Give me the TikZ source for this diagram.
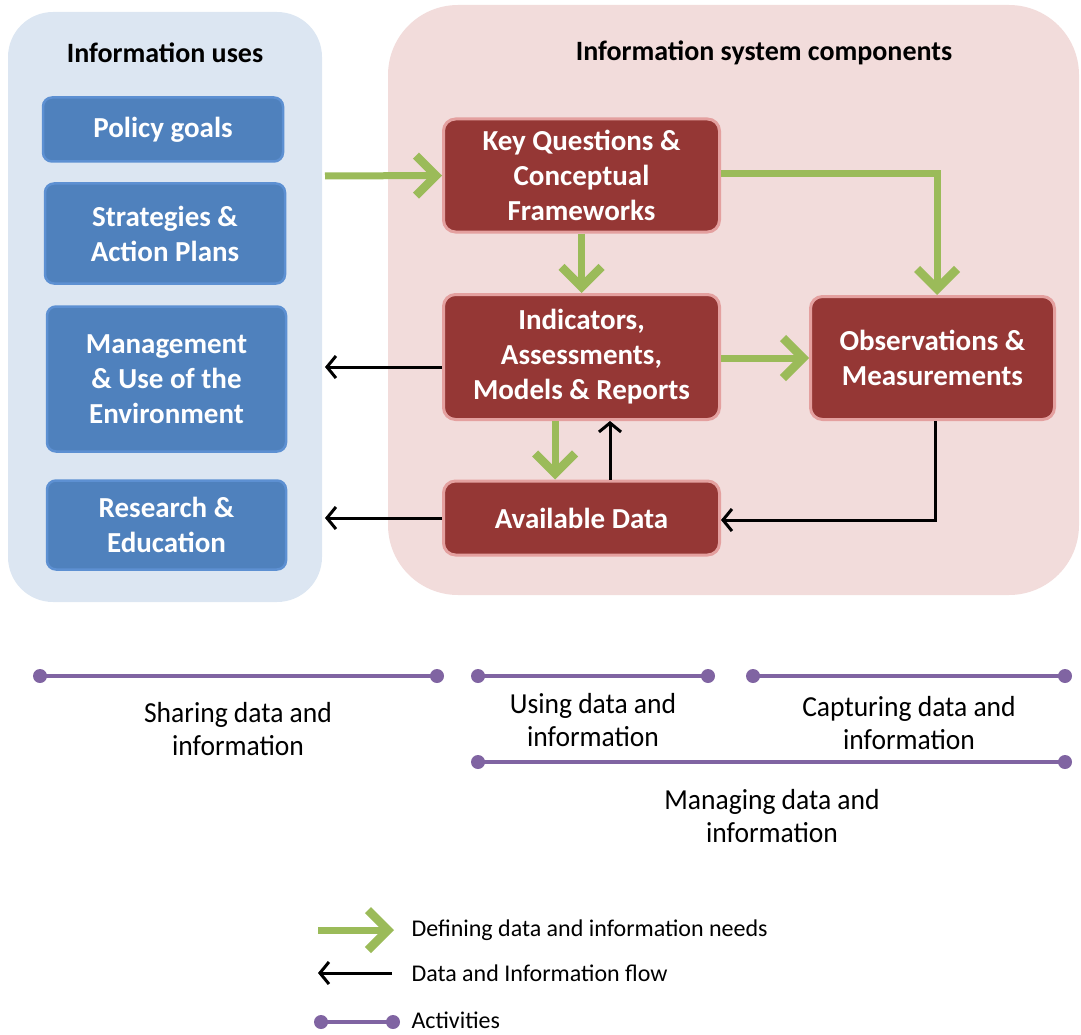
\documentclass[tikz,border=0pt]{standalone}
\usepackage{fontspec}
\setmainfont{Carlito}
\newfontfamily\narrowfont[FakeStretch=0.95]{Carlito}
\usetikzlibrary{arrows.meta}
\definecolor{panelblue}{HTML}{DCE6F2}
\definecolor{panelred}{HTML}{F2DCDB}
\definecolor{boxblue}{HTML}{4F81BD}
\definecolor{edgeblue}{HTML}{5D90D2}
\definecolor{boxred}{HTML}{953735}
\definecolor{edgered}{HTML}{E4A09F}
\definecolor{needgreen}{HTML}{9BBB59}
\definecolor{actpurple}{HTML}{8064A2}
\tikzset{
  panel/.style={rounded corners=45pt, draw=none},
  usebox/.style={rectangle, rounded corners=9pt, fill=boxblue, draw=edgeblue, line width=2.5pt,
    text=white, font=\fontsize{29}{35}\selectfont\bfseries, align=center, inner sep=0pt},
  compbox/.style={rectangle, rounded corners=12pt, fill=boxred, draw=edgered, line width=3pt,
    text=white, font=\fontsize{29}{35}\selectfont\bfseries, align=center, inner sep=0pt},
  heading/.style={font=\fontsize{28}{32}\selectfont\bfseries, text=black},
  need/.style={draw=needgreen, line width=7pt, -{Straight Barb[length=20pt,width=40pt,line width=8.5pt]}},
  flow/.style={draw=black, line width=3pt, -{Straight Barb[length=9pt,width=22pt]}},
  activity/.style={draw=actpurple, line width=4pt},
  actdot/.style={circle, fill=actpurple, inner sep=0pt, minimum size=14pt},
  actlabel/.style={font=\fontsize{29}{33}\selectfont\narrowfont, align=center},
  legendtext/.style={font=\fontsize{24}{26}\selectfont, anchor=west},
}
\begin{document}
\begin{tikzpicture}[x=1pt,y=-1pt]
\useasboundingbox (0,0) rectangle (1081,1035);

% background panels
\fill[panelblue, panel] (8,12) rectangle (322,602);
\fill[panelred, panel, rounded corners=70pt] (388,5) rectangle (1079,595);
\node[heading] (usesTitle) at (165,53) {Information uses};
\node[heading] (compTitle) at (764,53) {Information system components};

% information uses
\node[usebox, minimum width=240pt, minimum height=64pt] (policy) at (163,129.5) {Policy goals};
\node[usebox, minimum width=240pt, minimum height=100pt] (strategy) at (165,233.5) {Strategies \&\\Action Plans};
\node[usebox, minimum width=239pt, minimum height=145pt] (manage) at (166.5,379) {Management\\\& Use of the\\Environment};
\node[usebox, minimum width=239pt, minimum height=89pt] (research) at (166.5,525) {Research \&\\Education};

% information system components
\node[compbox, minimum width=276pt, minimum height=113pt] (keyq) at (581.5,175.5) {Key Questions \&\\Conceptual\\Frameworks};
\node[compbox, minimum width=276pt, minimum height=125pt] (indic) at (581.5,357) {Indicators,\\Assessments,\\Models \& Reports};
\node[compbox, minimum width=244pt, minimum height=123pt] (obs) at (932.5,358) {Observations \&\\Measurements};
\node[compbox, minimum width=276pt, minimum height=74pt] (avail) at (581.5,518) {Available Data};

% defining data and information needs
\coordinate (needIn) at (325,176);
\draw[need] (needIn) -- (keyq.west);
\draw[need] (keyq.east |- 0,174) -| (obs.north -| 937,0);
\draw[need] (keyq.south) -- (indic.north);
\draw[need] (indic.east |- 0,358) -- (obs.west |- 0,358);
\draw[need] (indic.south -| 555,0) -- (avail.north -| 555,0);

% data and information flow
\draw[flow] (avail.north -| 610,0) -- (indic.south -| 610,0);
\coordinate (flowOutA) at (325,367);
\coordinate (flowOutB) at (325,518);
\draw[flow] (indic.west |- 0,367) -- (flowOutA);
\draw[flow] (avail.west) -- (flowOutB);
\draw[flow] (obs.south -| 935,0) |- (avail.east |- 0,520);

% activities
\node[actdot] (shareA) at (40,676) {};
\node[actdot] (shareB) at (437,676) {};
\draw[activity] (shareA.center) -- (shareB.center);
\node[actlabel] (shareText) at (238,729) {Sharing data and\\information};

\node[actdot] (useA) at (478,676) {};
\node[actdot] (useB) at (708,676) {};
\draw[activity] (useA.center) -- (useB.center);
\node[actlabel] (useText) at (593,720) {Using data and\\information};

\node[actdot] (capA) at (753,676) {};
\node[actdot] (capB) at (1065,676) {};
\draw[activity] (capA.center) -- (capB.center);
\node[actlabel] (capText) at (909,723) {Capturing data and\\information};

\node[actdot] (manA) at (478,762) {};
\node[actdot] (manB) at (1065,762) {};
\draw[activity] (manA.center) -- (manB.center);
\node[actlabel] (manText) at (772,816) {Managing data and\\information};

% legend
\coordinate (legNeedA) at (318,930);
\coordinate (legNeedB) at (394,930);
\draw[need] (legNeedA) -- (legNeedB);
\node[legendtext] (legNeed) at (408,930) {Defining data and information needs};
\coordinate (legFlowA) at (392,973);
\coordinate (legFlowB) at (318,973);
\draw[flow] (legFlowA) -- (legFlowB);
\node[legendtext] (legFlow) at (408,973) {Data and Information flow};
\node[actdot] (legActA) at (321,1022) {};
\node[actdot] (legActB) at (393,1022) {};
\draw[activity] (legActA.center) -- (legActB.center);
\node[legendtext] (legAct) at (408,1020) {Activities};
\end{tikzpicture}
\end{document}
